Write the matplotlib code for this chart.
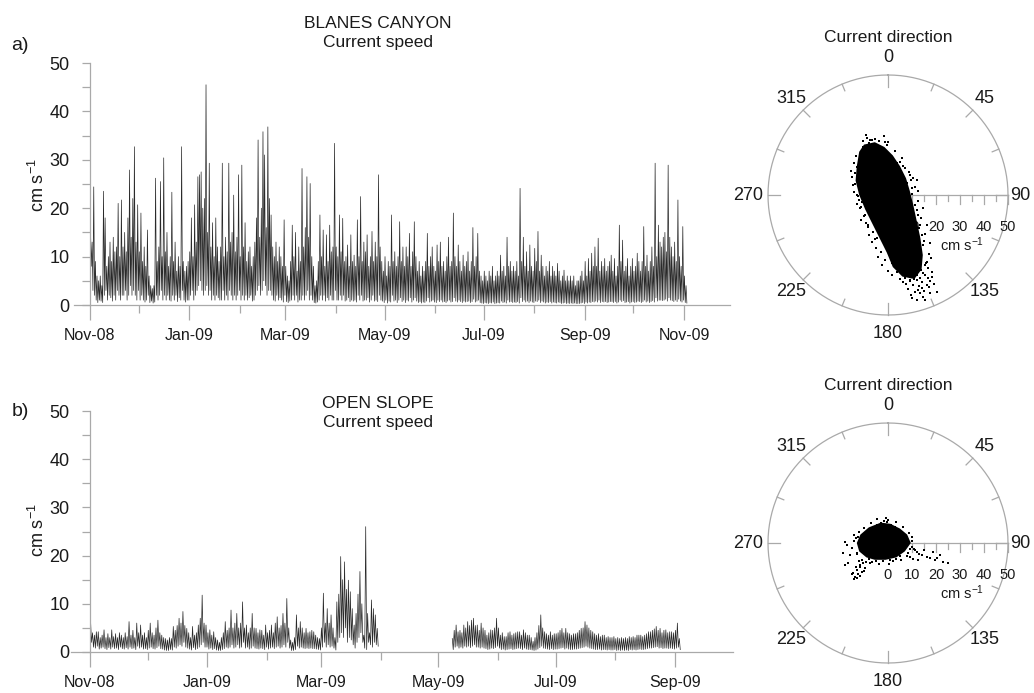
"""Blanes canyon / open slope current records: speed time series + direction scatter."""
import datetime as dt

import matplotlib
matplotlib.use("Agg")
import matplotlib.pyplot as plt
import numpy as np

W, H = 1034, 693
TXT = "#1a1a1a"
AXC = "#a9a9a9"      # light grey axis lines
TRACE = "#111111"

plt.rcParams.update({
    "font.family": ["Liberation Sans", "DejaVu Sans"],
    "mathtext.default": "regular",
    "text.color": TXT,
})

START = dt.datetime(2008, 11, 1)

# ---- canyon: daily peak / trough speed (cm/s), day 0 = 1 Nov 2008 ----
CANYON_MAX = [
    15.5, 13, 24.4, 9, 6, 5, 6, 4, 23.5, 18,
    8, 10, 13, 9, 14, 11, 12, 21, 10, 21.7,
    12, 15, 11, 18, 27.9, 14, 22, 32.7, 13, 20.7,
    11, 19, 9, 12, 8, 15.5, 6, 4, 3.4, 4,
    26.2, 9, 12, 25.5, 10, 30.4, 11, 15, 8, 10,
    23.3, 9, 13, 7, 10, 8, 32.7, 9, 7, 8,
    9, 11, 18, 10, 20.7, 13, 26.5, 26.9, 27.5, 20,
    22, 45.5, 15, 29.3, 12, 17, 10, 18, 12, 9,
    12, 29.3, 10, 14, 11, 29.3, 13, 15, 22.7, 11,
    14, 26.9, 10, 28.9, 12, 17, 9, 11, 12, 8,
    10, 13, 18, 34.1, 14, 20, 35.8, 31, 16, 36.8,
    22, 18.6, 12, 10, 13, 9, 12, 10, 8, 17.6,
    8, 6, 5, 9, 16.5, 10, 15, 7, 12, 9,
    28.2, 12, 16, 26.5, 14, 25.1, 10, 8, 4, 5,
    9, 18.6, 10, 15.5, 8, 14.5, 9, 16.5, 11, 12,
    33.4, 12, 10, 18.6, 11, 17.9, 9, 10, 12.4, 8,
    14.5, 9, 10.3, 8, 17.6, 10, 22.4, 9, 13, 11,
    14.5, 8, 10, 15.2, 9, 13, 10, 26.9, 12, 9,
    7, 10, 6, 9, 8, 18.6, 9, 11, 8, 10,
    17.2, 9, 12, 8, 12, 10, 14.8, 8, 11, 17.2,
    10, 7, 9, 6, 8, 7, 9, 14.8, 8, 10,
    12, 8, 7, 12.4, 9, 13, 8, 9, 7, 10,
    14, 8, 9, 19, 10, 8, 12.4, 9, 7, 10.3,
    8, 9, 11, 7, 9, 16, 8, 10, 14.8, 7,
    6, 5, 7, 6, 5, 7, 6, 8, 5, 6,
    7, 6, 10.3, 7, 8, 6, 14, 8, 9, 7,
    8, 7, 9, 6, 24.1, 9, 14, 8, 11, 7,
    12.4, 8, 7, 11.7, 9, 15.2, 7, 10.3, 8, 6,
    8, 7, 9, 6, 8, 7, 6, 8.6, 7, 5,
    6, 7.2, 5, 6, 5, 6, 5, 6, 4, 5,
    5, 6, 7, 5, 9, 6, 9.6, 7, 10.7, 8,
    12, 8, 13.8, 7, 9, 8, 9.6, 7, 8, 9,
    10.3, 7, 9.6, 6, 8, 16.5, 9, 13.4, 7, 8,
    9.6, 6, 8, 9.6, 7, 8, 10.7, 9, 7, 9,
    16.2, 8, 10.3, 7, 9, 12, 8, 29.3, 10, 16.5,
    13, 12, 14, 15, 11, 28.9, 14, 12, 10, 13,
    9, 21.7, 10, 8, 16.2, 6, 4,
]
CANYON_MIN = [
    8, 3, 2, 1, 0.5, 1, 0.8, 0.5, 2, 3,
    1, 2, 1.5, 0.8, 2, 1, 3, 2, 1, 2,
    2, 3, 1, 2, 4, 2, 3, 2, 1, 3,
    1, 2, 1, 0.6, 1, 2, 0.5, 0.8, 0.4, 0.6,
    2, 1, 2, 3, 1, 2, 1, 2, 1, 0.8,
    2, 1, 2, 0.7, 1.5, 1, 3, 1, 0.6, 1,
    1, 2, 3, 1, 2, 3, 4, 5, 3, 2,
    3, 4, 2, 3, 1, 2, 1, 2, 1.5, 1,
    1, 3, 1, 2, 1, 3, 2, 1, 2, 1,
    2, 3, 1, 2, 1, 2, 1, 1.5, 2, 0.8,
    1, 2, 3, 4, 2, 3, 5, 4, 2, 3,
    3, 2, 1, 0.8, 2, 1, 1.5, 1, 0.6, 2,
    0.7, 0.5, 0.8, 1, 2, 1, 2, 0.6, 1, 1,
    2, 1, 2, 3, 1, 2, 1, 0.5, 0.4, 0.6,
    1, 2, 1, 2, 0.8, 1.5, 1, 2, 1, 1,
    3, 1, 1, 2, 1, 2, 0.8, 1, 1.5, 0.7,
    1, 0.8, 1, 0.6, 2, 1, 2, 0.8, 1, 1,
    1.5, 0.6, 1, 2, 0.8, 1, 0.7, 2, 1, 0.8,
    0.5, 1, 0.4, 0.8, 0.6, 2, 0.8, 1, 0.5, 1,
    1.5, 0.7, 1, 0.5, 1, 0.8, 1.5, 0.6, 1, 1.5,
    0.8, 0.5, 0.7, 0.4, 0.6, 0.5, 0.8, 1.5, 0.6, 0.8,
    1, 0.6, 0.5, 1, 0.7, 1, 0.6, 0.7, 0.5, 0.8,
    1, 0.6, 0.7, 1.5, 0.8, 0.6, 1, 0.7, 0.5, 0.8,
    0.6, 0.7, 0.8, 0.5, 0.7, 1.2, 0.6, 0.8, 1, 0.5,
    0.4, 0.3, 0.5, 0.4, 0.3, 0.5, 0.4, 0.6, 0.3, 0.4,
    0.5, 0.4, 0.8, 0.5, 0.6, 0.4, 1, 0.6, 0.7, 0.5,
    0.6, 0.5, 0.7, 0.4, 1.5, 0.7, 1, 0.6, 0.8, 0.5,
    0.8, 0.6, 0.5, 0.8, 0.7, 1, 0.5, 0.8, 0.6, 0.4,
    0.6, 0.5, 0.7, 0.4, 0.6, 0.5, 0.4, 0.6, 0.5, 0.3,
    0.4, 0.5, 0.3, 0.4, 0.3, 0.4, 0.3, 0.4, 0.3, 0.3,
    0.3, 0.4, 0.5, 0.3, 0.6, 0.4, 0.6, 0.5, 0.7, 0.6,
    0.8, 0.6, 1, 0.5, 0.7, 0.6, 0.7, 0.5, 0.6, 0.7,
    0.7, 0.5, 0.7, 0.4, 0.6, 1, 0.7, 0.9, 0.5, 0.6,
    0.7, 0.4, 0.6, 0.7, 0.5, 0.6, 0.8, 0.7, 0.5, 0.7,
    1, 0.6, 0.8, 0.5, 0.7, 0.9, 0.6, 1.5, 0.8, 1,
    1, 0.9, 1, 1.2, 0.8, 1.5, 1, 0.9, 0.7, 1,
    0.7, 1.2, 0.8, 0.6, 1, 0.5, 0.4,
]

# ---- open slope: two deployments (gap Apr-May 2009) ----
SLOPE_A_START = 0
SLOPE_A_MAX = [
    6.3, 4, 3.5, 4.2, 4.2, 3, 3.5, 4.6, 3, 3.8,
    3, 4.6, 3.2, 3.8, 3, 4, 3.5, 3, 4, 3.2,
    6.3, 3.5, 4.5, 3, 6, 4, 5.6, 3.5, 4, 3,
    4.5, 6, 4, 3.5, 5, 6.6, 4, 3.5, 3, 2.8,
    2.5, 3, 2.8, 5.3, 4.5, 5.5, 7, 6, 8.4, 5.5,
    4.9, 4, 3, 5.3, 3.5, 4, 5.6, 7, 11.8, 6,
    5.6, 4, 4.6, 3.5, 4.2, 3, 2.5, 2, 3, 4,
    6.3, 4.5, 5, 8.7, 5, 6, 8, 5, 6, 10.4,
    5, 5.6, 4, 5, 8, 5, 4.9, 4, 4.6, 4.5,
    3.5, 5.6, 4, 4.5, 5.6, 4, 6, 7.3, 5, 5.5,
    8, 6, 11.1, 5, 2.5, 2, 3, 7.7, 5, 6.3,
    5, 4, 4.9, 4, 4.2, 4.5, 4.2, 3.5, 3, 2.8,
    5, 12.2, 6, 9, 6, 7.7, 5, 3, 10.4, 12,
    19.8, 15, 18.7, 13, 14.9, 12.5, 9, 5.6, 8, 12,
    16.7, 10, 3.5, 26, 8, 4, 10.8, 9, 7.7, 4.9,
]
SLOPE_A_MIN = [
    2, 1, 0.8, 1.2, 0.6, 0.8, 1, 0.7, 0.5, 0.9,
    0.6, 1, 0.7, 0.8, 0.5, 1, 0.7, 0.6, 0.9, 0.6,
    1, 0.7, 0.8, 0.5, 1.2, 0.8, 1, 0.6, 0.7, 0.5,
    0.8, 1, 0.7, 0.6, 0.9, 1.2, 0.7, 0.6, 0.4, 0.3,
    0.3, 0.5, 0.4, 1, 0.8, 1.2, 1.5, 1.2, 2, 1,
    0.8, 0.6, 0.4, 0.9, 0.5, 0.7, 1, 1.5, 2, 1,
    1, 0.6, 0.8, 0.5, 0.7, 0.4, 0.3, 0.3, 0.5, 0.7,
    1, 0.8, 1, 1.5, 0.8, 1, 1.5, 0.8, 1, 2,
    0.8, 1, 0.6, 0.8, 1.2, 0.8, 0.7, 0.6, 0.8, 0.7,
    0.5, 1, 0.6, 0.8, 1, 0.7, 1, 1.2, 0.8, 1,
    1.5, 1, 2, 0.8, 0.3, 0.3, 0.5, 1.2, 0.8, 1,
    0.8, 0.7, 0.8, 0.7, 0.8, 0.7, 0.7, 0.6, 0.5, 0.4,
    1, 2, 1, 1.5, 1, 1.2, 0.8, 0.4, 2, 3,
    4, 3, 5, 2, 3, 2.5, 1.5, 0.8, 2, 3,
    4, 2, 0.8, 0.5, 2, 1.5, 1, 2, 1.5, 1.2,
]
SLOPE_B_START = 188
SLOPE_B_MAX = [
    2.8, 4.5, 5.6, 4.2, 4.5, 4, 5.6, 5, 6.3, 5.5,
    6.6, 7, 5.5, 5.6, 4.5, 6, 5, 4.5, 3.5, 4,
    4.6, 4.5, 5, 7, 5, 3.5, 4, 3.2, 3.2, 4,
    4.2, 3.5, 3.8, 4, 4.2, 4.2, 3.5, 4.6, 4, 3.5,
    3.5, 3, 2.2, 3, 4, 5.5, 7.7, 5, 4.2, 3.8,
    3.5, 4.2, 3.5, 3.8, 3.8, 4, 4.5, 4.9, 4, 4.9,
    4, 3.8, 3.5, 3.8, 3.8, 4, 4.5, 4.9, 5, 6.3,
    5.6, 5, 4.5, 4.2, 3.8, 3.5, 3.8, 3.2, 3.5, 3.5,
    3, 3.2, 3, 3, 3.2, 2.8, 3, 2.8, 3, 2.8,
    3, 2.8, 3.2, 3, 3.2, 3, 3.5, 3.5, 3.5, 3.2,
    3.5, 3.8, 4.2, 4.2, 4.5, 4.8, 5.3, 4.5, 4.9, 4,
    4.5, 4.6, 4, 4.2, 4.2, 4, 4.5, 6, 2.8,
]
SLOPE_B_MIN = [
    0.5, 1, 1.2, 0.8, 1, 0.8, 1.2, 1, 1.2, 0.9,
    1.2, 1.5, 1, 1, 0.8, 1, 0.8, 0.7, 0.5, 0.6,
    0.8, 0.7, 0.9, 1.2, 0.8, 0.5, 0.6, 0.4, 0.5, 0.6,
    0.7, 0.5, 0.6, 0.7, 0.8, 0.7, 0.5, 0.8, 0.6, 0.5,
    0.5, 0.4, 0.3, 0.4, 0.6, 0.9, 1.2, 0.8, 0.7, 0.6,
    0.5, 0.7, 0.5, 0.6, 0.6, 0.7, 0.8, 0.9, 0.6, 0.8,
    0.6, 0.5, 0.5, 0.6, 0.6, 0.7, 0.8, 0.9, 1, 1.2,
    1, 0.8, 0.7, 0.6, 0.5, 0.5, 0.6, 0.4, 0.5, 0.5,
    0.4, 0.5, 0.4, 0.4, 0.5, 0.3, 0.4, 0.3, 0.4, 0.3,
    0.4, 0.3, 0.5, 0.4, 0.5, 0.4, 0.5, 0.6, 0.5, 0.5,
    0.6, 0.7, 0.8, 0.8, 0.9, 1, 1.1, 0.8, 0.9, 0.7,
    0.8, 0.8, 0.7, 0.8, 0.7, 0.6, 0.8, 1, 0.5,
]

# ---- direction scatter (east / north components, cm/s) ----
# dense core outline + the sparser points around it
CANYON_CORE_E = [-10, -5.5, -1.5, 2, 5, 7.5, 9, 10.5, 12, 13.5, 14.5, 14, 11, 6,
                 2, -0.5, -3.5, -6.5, -9.5, -12, -13.5, -13, -12]
CANYON_CORE_N = [21, 22, 20, 16.5, 12, 7, 2, -4, -11, -18, -25, -31, -35, -34,
                 -30, -24, -18, -12, -6, 0, 6, 12, 18]
CANYON_E = [13.3, 15.4, 16.8, 14.7, 13.3, 11.9, 14.0, 10.6, 16.1, 16.8, 11.3, 13.3,
            14.7, 9.9, 20.3, 15.4, 17.5, 5.0, 7.2, 3.6, 1.5, 6.4, 16.1, 18.2, 14.0,
            11.9, 12.6,
            -8.9, -6.8, -5.4, -1.3, 0.1, -7.8, -4.7, -10.3, -3.3, -6.1, -1.9, -11.7,
            -0.6, 0.8,
            -14.4, -12.4, -13.1, -11.0, -11.7, -9.6, -10.3, -13.8, -8.2, -6.1, -4.7,
            -12.4,
            9.2, 10.6, 11.9, 7.8, 9.9, 5.0, 11.3, 12.6, 13.3, 14.0, 14.7, 8.5, 7.1,
            3.6, 5.0,
            12, 9, 15.5, 17.5, 8.5, 6, 2.5, 17, 19, 13, 15, 11, 7.5, 9.5, 18.5,
            -13.2, -14.1, -13.0, -15.2, -13.6, -14.3, -12.6, -13.1, -11.2, -10.1,
            -11.4, -8.3, -7.9, -5.6, -5.2, -3.1, -1.4, -2.6, 0.2, -15.6, -12.1, -9.2,
            -6.8, -4.1, 1.6,
            3.1, 5.8, 6.2, 8.9, 9.4, 11.2, 10.1, 12.6, 11.9, 13.8, 13.1, 15.6, 14.8,
            16.9, 15.9, 13.6, 9.1, 5.2, 12.4, 14.6, 16.1, 17.3, 18.1,
            -10.6, -7.7, -3.6, -0.4, -9.2, -1.7]
CANYON_N = [-25.7, -29.2, -30.6, -32.6, -34.7, -33.3, -36.1, -37.5, -37.5, -34.7,
            -40.3, -41.0, -42.4, -43.1, -40.3, -43.8, -41.0, -30.6, -34.7, -31.9,
            -28.5, -36.1, -27.8, -31.9, -38.9, -43.8, -39.6,
            23.6, 22.9, 23.3, 22.2, 22.2, 21.5, 20.8, 20.1, 19.4, 18.8, 18.3, 16.7,
            16.0, 15.3,
            4.2, 6.9, 0.0, -2.8, -5.6, -8.3, 1.4, 9.0, -12.5, -15.3, -18.1, 11.1,
            8.3, 6.9, 6.3, 4.9, 2.8, 9.7, -4.2, -8.3, -12.5, -16.7, -20.8, -1.4, 11.1,
            13.2, 13.9,
            -35.5, -36, -33.5, -36, -39, -32, -26, -38.5, -37, -38, -40, -35, -37,
            -41.5, -34,
            16.4, 13.2, 11.8, 7.6, 4.4, 1.2, -0.4, -3.9, -5.2, -8.8, -10.3, -13.5,
            -16.8, -18.4, -21.9, -23.7, -27.2, -29.1, -31.6, 10.1, -2.1, -11.7, -19.6,
            -25.8, -33.4,
            18.2, 15.3, 11.9, 9.4, 6.1, 3.3, 0.4, -2.7, -6.4, -9.6, -13.8, -16.2,
            -19.3, -24.4, -28.2, -31.4, -35.6, -34.9, 1.8, -5.3, -12.4, -20.2, -26.3,
            22.3, 23.1, 22.6, 20.9, 25.1, 24.4]

SLOPE_CORE_E = [-11.5, -8, -3, 1, 5, 8, 9.5, 7, 3.5, -1, -5.5, -9, -12, -13]
SLOPE_CORE_N = [3.5, 6.5, 8.5, 8, 6, 3.5, 0, -3.5, -6, -7, -7, -6, -3.5, 0]
SLOPE_E = [-17.9, -17.2, -18.6, -16.5, -17.9, -16, -15, -14, -13, -12.5,
           -13, -13.8, -11.7, -14.5, -12.5, -11, -10.5, -12, -13.5, -9.5, -14, -12.8,
           -11.5, -10, -9, -15,
           9.9, 12, 14, 16.3, 17.6, 19.6, 21.7, 23, 25, 18.9, 9.2, 11, 13, 10.5, 15,
           20.5, 8.5, 12.5,
           -2.8, 1.4, -0.5, 4.2, -4.5, 2.8, -6, 5.5, 0, -1.8,
           -8, -5, -2, 1, 3.5, -6.5, 5,
           -12.1, -13.4, -12.2, -12.9, -10.8, -7.6, -3.9, 0.6, 2.1, 5.6, 7.8, 9.3,
           10.2, 8.7, 6.4, 3.5, -0.8, -4.6, -7.1, -10.2, -14.1, 9.9, 11.4, -11.6]
SLOPE_N = [0.6, -0.8, -4.2, -8.3, -9, -5, -2, 1, -4, 2.5,
           -11.3, -14, -9.9, -12.5, -13, -12, -8.5, -7.5, -10, -10.5, -15, -14.5,
           -13.8, -11.5, -8, -13,
           -1.5, -3.6, -5, -5.7, -6.4, -7.1, -5, -7.8, -8.2, -3.6, -5.7, -2.5, -4.5,
           -6.5, -3, -6.2, -4, -7,
           8.2, 7.5, 8.9, 5.4, 7.5, 6.8, 6.5, 4.5, 9.5, 9.2,
           -6.5, -7.5, -7.5, -7, -6.5, -8, -5.5,
           4.6, 1.9, -1.1, -4.6, -7.2, -8.4, -8.9, -8.6, -7.6, -7.2, -5.3, -2.6,
           0.9, 4.2, 6.8, 8.9, 10.6, 9.8, 8.3, 6.4, 3.2, 2.6, -3.1, -9.2]


def px_axes(fig, x0, y0, x1, y1):
    """axes from pixel box (y measured from top)"""
    return fig.add_axes([x0 / W, 1 - y1 / H, (x1 - x0) / W, (y1 - y0) / H])


def zigzag(start_day, highs, lows):
    t, v = [], []
    for i, (hi, lo) in enumerate(zip(highs, lows)):
        d = start_day + i
        t += [START + dt.timedelta(days=d + 0.3), START + dt.timedelta(days=d + 0.8)]
        v += [hi, lo]
    return t, v


def style_ts(ax, right_date, n_months):
    ax.set_ylim(0, 50)
    ax.set_xlim(START - dt.timedelta(days=10), right_date)
    for s in ("top", "right"):
        ax.spines[s].set_visible(False)
    ax.spines["left"].set_position(("data", matplotlib.dates.date2num(START)))
    for s in ("left", "bottom"):
        ax.spines[s].set_color(AXC)
        ax.spines[s].set_linewidth(0.9)
    ax.set_yticks(range(0, 51, 10))
    ax.set_yticks(range(5, 50, 10), minor=True)

    months = [dt.datetime(2008 + (10 + k) // 12, (10 + k) % 12 + 1, 1)
              for k in range(n_months)]
    ax.set_xticks(months[::2])
    ax.set_xticklabels([m.strftime("%b-%y") for m in months[::2]])
    ax.set_xticks(months[1::2], minor=True)

    ax.tick_params(axis="x", which="major", length=10.8, width=0.9, color=AXC,
                   pad=6, labelsize=11.5, labelcolor=TXT)
    ax.tick_params(axis="x", which="minor", length=5.8, width=0.9, color=AXC)
    ax.tick_params(axis="y", which="both", length=5.8, width=0.9, color=AXC,
                   pad=9, labelsize=13, labelcolor=TXT)
    ax.set_facecolor("none")


def polar_panel(fig, cx, cy, core_e, core_n, pts_e, pts_n):
    s = 2.4   # pixels per cm/s
    ax = px_axes(fig, cx - 150, cy - 150, min(cx + 150, W), cy + 150)
    ax.set_xlim(-150 / s, (min(cx + 150, W) - cx) / s)
    ax.set_ylim(-150 / s, 150 / s)
    ax.axis("off")

    a = np.linspace(0, 2 * np.pi, 361)
    ax.plot(50 * np.sin(a), 50 * np.cos(a), color=AXC, lw=0.9, zorder=1)
    for k in range(16):
        ang = np.deg2rad(k * 22.5)
        L = 5 if k % 4 == 0 else (4 if k % 2 == 0 else 3)
        ax.plot([50 * np.sin(ang), (50 - L) * np.sin(ang)],
                [50 * np.cos(ang), (50 - L) * np.cos(ang)],
                color=AXC, lw=0.9, zorder=1)

    # radial speed axis along east
    ax.plot([0, 50], [0, 0], color=AXC, lw=0.9, zorder=1)
    for r in range(5, 51, 5):
        L = 3.6 if r % 10 == 0 else 2.4
        ax.plot([r, r], [0, -L], color=AXC, lw=0.9, zorder=1)
    for r in range(0, 51, 10):
        ax.text(r, -13.5, str(r), ha="center", va="center", fontsize=10.5, zorder=1)
    ax.text(31, -20.8, "cm s$^{-1}$", ha="center", va="center", fontsize=10.5,
            zorder=1)

    lab_r = {0: 57.5, 45: 57, 90: 55, 135: 57, 180: 57.5, 225: 57, 270: 58.3, 315: 57}
    for deg, r in lab_r.items():
        ang = np.deg2rad(deg)
        ax.text(r * np.sin(ang), r * np.cos(ang), str(deg), ha="center",
                va="center", fontsize=13)
    ax.text(0, 157 / s, "Current direction", ha="center", va="center",
            fontsize=12.5)

    ax.fill(core_e, core_n, color="black", lw=0, zorder=3)
    ax.scatter(pts_e, pts_n, s=2.4, marker="s", color="black", linewidths=0,
               zorder=3)
    return ax


def main():
    fig = plt.figure(figsize=(W / 100, H / 100), dpi=100)
    fig.patch.set_facecolor("white")

    # a) canyon
    ax1 = px_axes(fig, 90 - 10 * 594 / 365, 63, 729.5, 305)
    t, v = zigzag(0, CANYON_MAX, CANYON_MIN)
    ax1.plot(t, v, color=TRACE, lw=0.5, alpha=0.9)
    style_ts(ax1, dt.datetime(2009, 11, 29), 13)

    # b) open slope
    ax2 = px_axes(fig, 90 - 10 * 585 / 304, 411, 732.6, 652)
    t, v = zigzag(SLOPE_A_START, SLOPE_A_MAX, SLOPE_A_MIN)
    ax2.plot(t, v, color=TRACE, lw=0.5, alpha=0.9)
    t, v = zigzag(SLOPE_B_START, SLOPE_B_MAX, SLOPE_B_MIN)
    ax2.plot(t, v, color=TRACE, lw=0.5, alpha=0.9)
    style_ts(ax2, dt.datetime(2009, 10, 1), 11)

    for yl in (185, 530):
        fig.text(38 / W, 1 - yl / H, "cm s$^{-1}$", rotation=90, ha="center",
                 va="center", fontsize=13)
    fig.text(378 / W, 1 - 23 / H, "BLANES CANYON", ha="center", va="center",
             fontsize=12.5)
    fig.text(378 / W, 1 - 43 / H, "Current speed", ha="center", va="center",
             fontsize=12.5)
    fig.text(378 / W, 1 - 403 / H, "OPEN SLOPE", ha="center", va="center",
             fontsize=12.5)
    fig.text(378 / W, 1 - 423 / H, "Current speed", ha="center", va="center",
             fontsize=12.5)
    fig.text(20 / W, 1 - 45 / H, "a)", ha="center", va="center", fontsize=14)
    fig.text(20 / W, 1 - 412 / H, "b)", ha="center", va="center", fontsize=14)

    polar_panel(fig, 888, 195, CANYON_CORE_E, CANYON_CORE_N, CANYON_E, CANYON_N)
    polar_panel(fig, 888, 543, SLOPE_CORE_E, SLOPE_CORE_N, SLOPE_E, SLOPE_N)

    fig.savefig("out.png", dpi=100, facecolor="white")
    plt.close(fig)


if __name__ == "__main__":
    main()
